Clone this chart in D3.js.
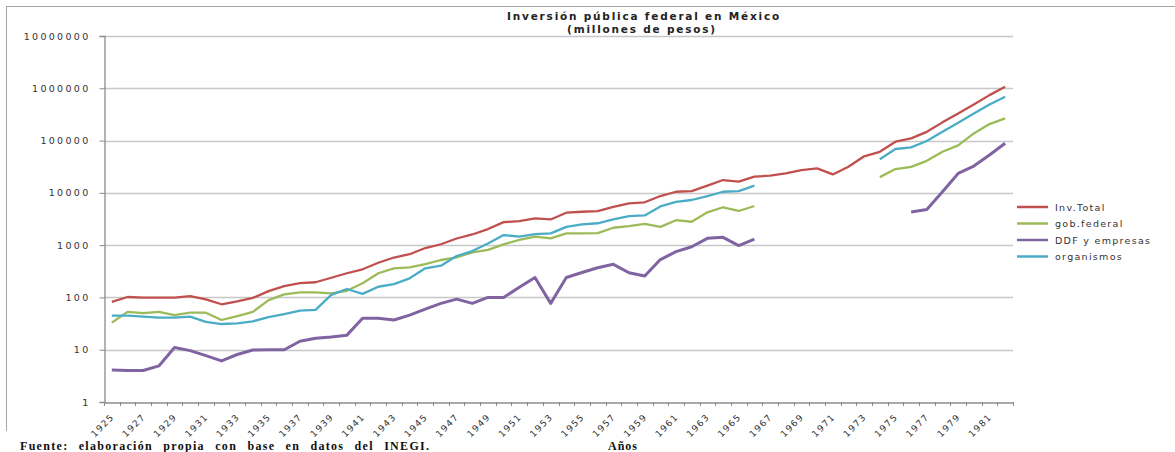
<!DOCTYPE html>
<html><head><meta charset="utf-8">
<script src="https://cdn.jsdelivr.net/npm/d3@7"></script>
<style>body{margin:0;background:#fff;} svg{display:block;}</style>
</head><body>
<script>
const years = [1925,1926,1927,1928,1929,1930,1931,1932,1933,1934,1935,1936,1937,1938,1939,1940,1941,1942,1943,1944,1945,1946,1947,1948,1949,1950,1951,1952,1953,1954,1955,1956,1957,1958,1959,1960,1961,1962,1963,1964,1965,1966,1967,1968,1969,1970,1971,1972,1973,1974,1975,1976,1977,1978,1979,1980,1981,1982];
const invTotal = [82,102,99,99,99,106,92,74,84,98,132,165,188,195,238,290,345,460,580,670,880,1040,1340,1600,2030,2750,2880,3250,3100,4170,4350,4470,5400,6300,6600,8700,10500,10800,13700,17600,16400,20400,21300,23600,27300,29300,22500,31500,50000,61000,95000,110000,147000,223000,330000,490000,740000,1070000];
const gobFederal = [33,53,50,53,46,51,51,37,44,53,89,114,125,125,120,134,187,290,360,376,435,520,585,730,810,1035,1260,1450,1350,1680,1680,1700,2150,2320,2560,2240,3000,2800,4250,5300,4500,5600,null,null,null,null,null,null,null,20000,28500,31500,41000,61000,81000,137000,207000,265000];
const ddfEmpresas = [4.1,4,4,4.9,11,9.6,7.7,6.1,8.1,9.9,10,10,14.5,16.5,17.5,19,40,40,37,46,60,77,93,77,100,100,156,240,77,240,300,370,430,297,256,530,750,930,1350,1410,980,1310,null,null,null,null,null,null,null,null,null,4300,4800,10500,23500,32500,53000,89000];
const organismos = [45,45,43,41,41,43,34,31,32,35,42,48,56,58,112,145,117,160,180,232,360,405,620,770,1075,1560,1450,1630,1680,2240,2500,2620,3100,3600,3700,5500,6700,7300,8700,10500,10800,13700,null,null,null,null,null,null,null,44000,69000,74000,98000,147000,220000,330000,490000,690000];
const yTicks = [1,10,100,1000,10000,100000,1000000,10000000];
const seriesNames = ["Inv.Total","gob.federal","DDF y empresas","organismos"];
const seriesColors = ["#C0504D","#9BBB59","#8064A2","#4BACC6"];
const seriesWidths = [2.3,2.3,3,2.3];
const seriesValues = [invTotal,gobFederal,ddfEmpresas,organismos];
const titleLines = ["Inversión pública federal en México","(millones de pesos)"];

const W=1175,H=452;
const svg=d3.select("body").append("svg").attr("width",W).attr("height",H);
const L=104,R=1013,T=36,B=402;
const x=d3.scaleBand().domain(years).range([L,R]).padding(0);
const y=d3.scaleLog().domain([1,1e7]).range([B,T]);
const cx=d=>x(d)+x.bandwidth()/2;

// frame
svg.append("line").attr("x1",6).attr("x2",W).attr("y1",6.5).attr("y2",6.5).attr("stroke","#a6a6a6").attr("stroke-width",1);
svg.append("line").attr("x1",6.5).attr("x2",6.5).attr("y1",6).attr("y2",431).attr("stroke","#a6a6a6").attr("stroke-width",1);

// gridlines
svg.append("g").selectAll("line").data(yTicks.slice(1)).join("line")
  .attr("x1",L).attr("x2",R).attr("y1",d=>Math.round(y(d))+0.5).attr("y2",d=>Math.round(y(d))+0.5)
  .attr("stroke","#c8c8c8").attr("stroke-width",1.5);

// y axis
const yAxis=d3.axisLeft(y).tickValues(yTicks).tickFormat(d3.format("d")).tickSize(5).tickPadding(9);
const gy=svg.append("g").attr("transform",`translate(${L+0.5},0)`).call(yAxis);
gy.select(".domain").attr("stroke","#8c8c8c").attr("stroke-width",1.3);
gy.selectAll(".tick line").attr("stroke","#8c8c8c");
gy.selectAll(".tick text").attr("font-family","DejaVu Sans").attr("font-size",9.5).attr("letter-spacing","2.3px").attr("fill","#333");

// x axis
const xAxis=d3.axisBottom(x).tickSize(0).tickFormat((d,i)=> i%2===0 ? d : "");
const gx=svg.append("g").attr("transform",`translate(0,${B+0.5})`).call(xAxis);
gx.select(".domain").attr("stroke","#8c8c8c").attr("stroke-width",1.3);
gx.selectAll(".tick text").attr("font-family","DejaVu Sans").attr("font-size",9).attr("letter-spacing","1.4px").attr("fill","#333")
  .attr("text-anchor","end").attr("dy",0).attr("y",0)
  .attr("transform","translate(3,15) rotate(-45)");
// boundary tick marks
const bounds=years.map(d=>x(d)).concat([R]);
svg.append("g").selectAll("line").data(bounds).join("line")
  .attr("x1",d=>Math.round(d)+0.5).attr("x2",d=>Math.round(d)+0.5).attr("y1",B).attr("y2",B+4)
  .attr("stroke","#8c8c8c").attr("stroke-width",1);

// lines
const line=d3.line().defined(d=>d.v!=null).x(d=>cx(d.year)).y(d=>y(d.v));
seriesValues.forEach((vals,k)=>{
  const data=years.map((yr,i)=>({year:yr,v:vals[i]}));
  svg.append("path").datum(data).attr("d",line).attr("fill","none")
    .attr("stroke",seriesColors[k]).attr("stroke-width",seriesWidths[k]).attr("stroke-linejoin","round");
});

// title
const tt=svg.append("text").attr("text-anchor","middle").attr("font-family","DejaVu Sans").attr("font-weight","bold").attr("font-size",10.5).attr("letter-spacing","1.8px").attr("fill","#222");
tt.append("tspan").attr("x",644).attr("y",20).text(titleLines[0]);
tt.append("tspan").attr("x",642).attr("y",32.5).text(titleLines[1]);

// legend
const lg=svg.append("g");
seriesNames.forEach((n,k)=>{
  const yy=[207,223.5,240,256.5][k];
  lg.append("line").attr("x1",1017).attr("x2",1048).attr("y1",yy).attr("y2",yy).attr("stroke",seriesColors[k]).attr("stroke-width",2.5);
  lg.append("text").attr("x",1055).attr("y",yy+3.5).attr("font-family","DejaVu Sans").attr("font-size",9.5).attr("letter-spacing","1.3px").attr("fill","#333").text(n);
});

// footer
svg.append("text").attr("x",20).attr("y",450).attr("font-family","Liberation Serif").attr("font-weight","bold").attr("font-size",12)
  .attr("letter-spacing","1.3px").attr("word-spacing","6px").attr("fill","#111").text("Fuente: elaboración propia con base en datos del INEGI.");
svg.append("text").attr("x",608).attr("y",450).attr("font-family","Liberation Serif").attr("font-weight","bold").attr("font-size",12)
  .attr("letter-spacing","1px").attr("fill","#111").text("Años");
</script>
</body></html>
